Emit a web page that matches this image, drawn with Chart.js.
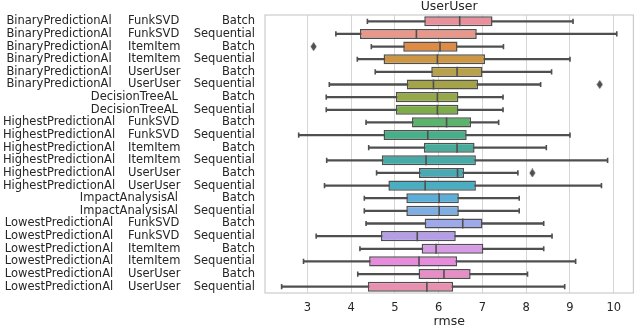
<!DOCTYPE html>
<html>
<head>
<meta charset="utf-8">
<script src="https://cdn.jsdelivr.net/npm/chart.js@4"></script>
<style>
  body { margin: 0; background: #fff; }
  #wrap { position: relative; width: 640px; height: 328px; }
</style>
</head>
<body>
<div id="wrap"><canvas id="boxChart"></canvas></div>
<script>
// label parts (one row per box, top to bottom)
const strategies = [
  'BinaryPredictionAl', 'BinaryPredictionAl', 'BinaryPredictionAl', 'BinaryPredictionAl', 'BinaryPredictionAl', 'BinaryPredictionAl',
  'DecisionTreeAL', 'DecisionTreeAL',
  'HighestPredictionAl', 'HighestPredictionAl', 'HighestPredictionAl', 'HighestPredictionAl', 'HighestPredictionAl', 'HighestPredictionAl',
  'ImpactAnalysisAl', 'ImpactAnalysisAl',
  'LowestPredictionAl', 'LowestPredictionAl', 'LowestPredictionAl', 'LowestPredictionAl', 'LowestPredictionAl', 'LowestPredictionAl'
];
const recommenders = [
  'FunkSVD', 'FunkSVD', 'ItemItem', 'ItemItem', 'UserUser', 'UserUser',
  '', '',
  'FunkSVD', 'FunkSVD', 'ItemItem', 'ItemItem', 'UserUser', 'UserUser',
  '', '',
  'FunkSVD', 'FunkSVD', 'ItemItem', 'ItemItem', 'UserUser', 'UserUser'
];
const modes = [
  'Batch', 'Sequential', 'Batch', 'Sequential', 'Batch', 'Sequential',
  'Batch', 'Sequential',
  'Batch', 'Sequential', 'Batch', 'Sequential', 'Batch', 'Sequential',
  'Batch', 'Sequential',
  'Batch', 'Sequential', 'Batch', 'Sequential', 'Batch', 'Sequential'
];

// rmse box statistics
const whiskerLow  = [4.37, 3.65, 4.46, 4.14, 4.55, 3.50, 3.43, 3.43, 4.34, 2.80, 4.40, 3.44, 4.58, 3.39, 4.30, 4.30, 4.34, 3.20, 4.20, 2.91, 4.15, 2.41];
const q1          = [5.67, 4.20, 5.19, 4.74, 5.83, 5.27, 5.02, 5.02, 5.39, 4.74, 5.66, 4.70, 5.55, 4.85, 5.26, 5.26, 5.68, 4.68, 5.61, 4.41, 5.54, 4.38];
const medians     = [6.48, 5.49, 6.03, 5.97, 6.42, 5.88, 5.97, 5.97, 6.18, 5.75, 6.42, 5.71, 6.43, 5.69, 6.01, 6.01, 6.55, 5.51, 5.94, 5.55, 6.12, 5.73];
const q3          = [7.23, 6.87, 6.43, 7.06, 7.00, 6.90, 6.45, 6.45, 6.74, 6.64, 6.82, 6.85, 6.58, 6.85, 6.46, 6.46, 7.00, 6.39, 7.02, 6.42, 6.73, 6.33];
const whiskerHigh = [9.07, 10.07, 7.48, 9.00, 8.58, 8.33, 7.47, 7.47, 7.37, 9.00, 8.46, 9.86, 7.81, 9.72, 7.84, 7.84, 8.40, 8.59, 8.40, 9.13, 8.03, 8.88];
const outlierRows   = [2, 5, 12];
const outlierValues = [3.14, 9.68, 8.14];

const xTicks = [3, 4, 5, 6, 7, 8, 9, 10];
const xMin = 2.03;
const xMax = 10.45;

const boxColors = [
  '#e8919c', '#e8978a', '#dd8b45', '#cc9644', '#b9a04a', '#a5a34a', '#95a84a', '#7cad48',
  '#5cb36b', '#47b08a', '#47ac9a', '#46aaa6', '#48abb3', '#4aaec2', '#5aaed8', '#7faee3',
  '#9ea9e9', '#b59de7', '#d79be6', '#e78bdd', '#e88dc6', '#e890b0'
];

const lineGray = '#4f4f4f';
const textGray = '#262626';
const fontFamily = "'DejaVu Sans', sans-serif";

const rows = strategies.map((s, i) => i);
const rowLabels = rows.map((i) => [strategies[i], recommenders[i], modes[i]].join(' '));

// thin diamond marker for the fliers
const diamond = document.createElement('canvas');
diamond.width = 7;
diamond.height = 9;
const dctx = diamond.getContext('2d');
dctx.fillStyle = lineGray;
dctx.beginPath();
dctx.moveTo(3.5, 0);
dctx.lineTo(6.5, 4.5);
dctx.lineTo(3.5, 9);
dctx.lineTo(0.5, 4.5);
dctx.closePath();
dctx.fill();

// frame round the plot area
const framePlugin = {
  id: 'frame',
  beforeDatasetsDraw(chart) {
    const { ctx, chartArea } = chart;
    ctx.save();
    ctx.strokeStyle = '#cccccc';
    ctx.lineWidth = 1.2;
    ctx.strokeRect(chartArea.left, chartArea.top, chartArea.right - chartArea.left, chartArea.bottom - chartArea.top);
    ctx.restore();
  }
};

// three column category labels
const rowLabelPlugin = {
  id: 'rowLabels',
  afterDraw(chart) {
    const { ctx } = chart;
    const yScale = chart.scales.y;
    ctx.save();
    ctx.font = '11.5px ' + fontFamily;
    ctx.fillStyle = textGray;
    ctx.textBaseline = 'middle';
    rows.forEach((i) => {
      const y = yScale.getPixelForValue(i);
      if (recommenders[i]) {
        ctx.textAlign = 'center';
        ctx.fillText(strategies[i], 59, y);
        ctx.textAlign = 'left';
        ctx.fillText(recommenders[i], 128, y);
      } else {
        ctx.textAlign = 'right';
        ctx.fillText(strategies[i], 178, y);
      }
      ctx.textAlign = 'right';
      ctx.fillText(modes[i], 255, y);
    });
    ctx.restore();
  }
};

new Chart(document.getElementById('boxChart'), {
  type: 'bar',
  data: {
    labels: rowLabels,
    datasets: [
      {
        type: 'scatter',
        label: 'median',
        order: 0,
        data: rows.map((i) => ({ x: medians[i], y: rowLabels[i] })),
        pointStyle: 'line',
        rotation: 90,
        radius: 5,
        borderColor: lineGray,
        borderWidth: 1.6
      },
      {
        type: 'scatter',
        label: 'caps',
        order: 1,
        data: rows.flatMap((i) => [{ x: whiskerLow[i], y: rowLabels[i] }, { x: whiskerHigh[i], y: rowLabels[i] }]),
        pointStyle: 'line',
        rotation: 90,
        radius: 2.6,
        borderColor: lineGray,
        borderWidth: 1.6
      },
      {
        type: 'scatter',
        label: 'outliers',
        order: 1,
        data: outlierRows.map((r, k) => ({ x: outlierValues[k], y: rowLabels[r] })),
        pointStyle: diamond
      },
      {
        label: 'box',
        order: 2,
        grouped: false,
        data: rows.map((i) => [q1[i], q3[i]]),
        backgroundColor: boxColors,
        borderColor: lineGray,
        borderWidth: 1.5,
        borderSkipped: false,
        barPercentage: 0.8,
        categoryPercentage: 1
      },
      {
        label: 'whisker',
        order: 3,
        grouped: false,
        data: rows.map((i) => [whiskerLow[i], whiskerHigh[i]]),
        backgroundColor: lineGray,
        barThickness: 1.6
      }
    ]
  },
  options: {
    indexAxis: 'y',
    responsive: true,
    maintainAspectRatio: false,
    animation: false,
    events: [],
    layout: { padding: { right: 1, left: 0, top: 0, bottom: 0 } },
    plugins: {
      legend: { display: false },
      tooltip: { enabled: false },
      title: { display: false }
    },
    scales: {
      x: {
        type: 'linear',
        min: xMin,
        max: xMax,
        afterBuildTicks: (scale) => {
          scale.ticks = xTicks.map((v) => ({ value: v }));
        },
        afterFit: (scale) => {
          scale.height = 35;
        },
        grid: { color: '#d6d6d6', lineWidth: 1, drawTicks: false },
        border: { display: false },
        ticks: {
          color: textGray,
          padding: 8,
          font: { family: fontFamily, size: 11.5 }
        },
        title: {
          display: true,
          text: 'rmse',
          color: textGray,
          font: { family: fontFamily, size: 12.5, lineHeight: 1 },
          padding: { top: 0, bottom: 0 }
        }
      },
      // top axis only carries the panel title, centred over the plot
      xTop: {
        type: 'linear',
        position: 'top',
        min: xMin,
        max: xMax,
        afterFit: (scale) => {
          scale.height = 15;
        },
        grid: { display: false },
        border: { display: false },
        ticks: { display: false },
        title: {
          display: true,
          text: 'UserUser',
          color: textGray,
          font: { family: fontFamily, size: 12.5, lineHeight: 1.1 },
          padding: { top: 0, bottom: 0 }
        }
      },
      y: {
        type: 'category',
        afterFit: (scale) => {
          scale.width = 265;
        },
        grid: { display: false },
        border: { display: false },
        ticks: { display: false }
      }
    }
  },
  plugins: [framePlugin, rowLabelPlugin]
});
</script>
</body>
</html>
